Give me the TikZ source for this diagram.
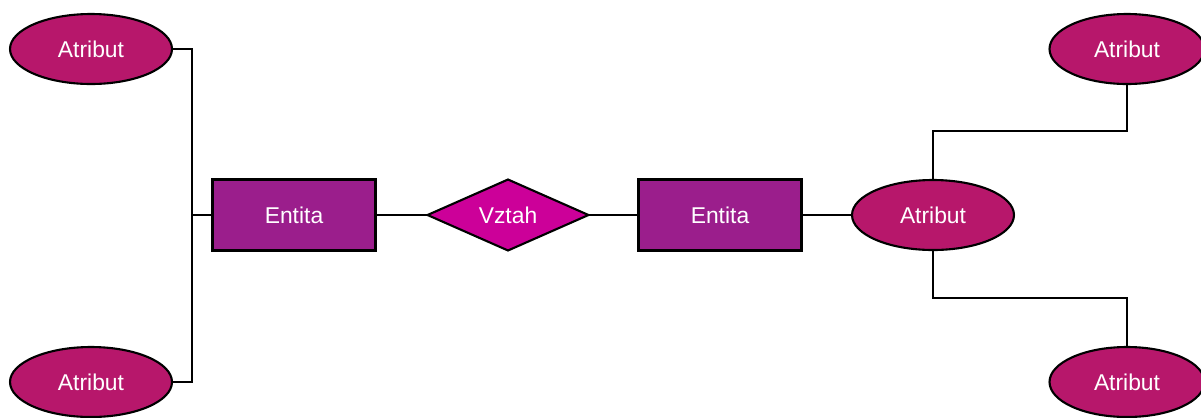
\documentclass[tikz,border=0pt]{standalone}
\usepackage{fontspec}
\setmainfont{Liberation Sans}
\usetikzlibrary{shapes}
\usetikzlibrary{positioning}
\definecolor{attrcol}{RGB}{183,23,107}
\definecolor{entcol}{RGB}{155,30,140}
\definecolor{relcol}{RGB}{204,0,153}
\tikzset{every node/.style={inner sep=0pt, outer sep=0pt, font=\fontsize{13}{15}\selectfont, text=white}}
\tikzset{attrnode/.style={ellipse,draw=black,line width=1.2pt,fill=attrcol,minimum width=3.24cm,minimum height=1.4cm}}
\tikzset{entnode/.style={rectangle,draw=black,line width=1.2pt,fill=entcol,minimum width=3.26cm,minimum height=1.42cm}}
\tikzset{relnode/.style={diamond,draw=black,line width=1.2pt,fill=relcol,aspect=2.27,minimum width=3.22cm,minimum height=1.42cm}}

\begin{document}
\begin{tikzpicture}[x=0.02cm,y=-0.02cm,line width=1.1pt]

    \useasboundingbox (0,0) rectangle (1201,417);

    \node[attrnode] (AttrTL) at (91,49) {Atribut};
    \node[attrnode] (AttrBL) at (91,382) {Atribut};
    \node[entnode] (EntLeft) at (294,215) {Entita};
    \node[relnode] (Rel) at (508,215) {Vztah};
    \node[entnode] (EntRight) at (720,215) {Entita};
    \node[attrnode] (AttrMid) at (933,215) {Atribut};
    \node[attrnode,minimum width=3.1cm] (AttrTR) at (1127,49) {Atribut};
    \node[attrnode,minimum width=3.1cm] (AttrBR) at (1127,382) {Atribut};

    \coordinate (LeftBus) at (192,215);
    \coordinate (UpBend) at (933,131);
    \coordinate (DownBend) at (933,298);

    \draw (AttrTL.east) -| (LeftBus) |- (AttrBL.east);
    \draw (LeftBus) -- (EntLeft.west);
    \draw (EntLeft.east) -- (Rel.west);
    \draw (Rel.east) -- (EntRight.west);
    \draw (EntRight.east) -- (AttrMid.west);
    \draw (AttrMid.north) -- (UpBend) -| (AttrTR.south);
    \draw (AttrMid.south) -- (DownBend) -| (AttrBR.north);

\end{tikzpicture}
\end{document}
